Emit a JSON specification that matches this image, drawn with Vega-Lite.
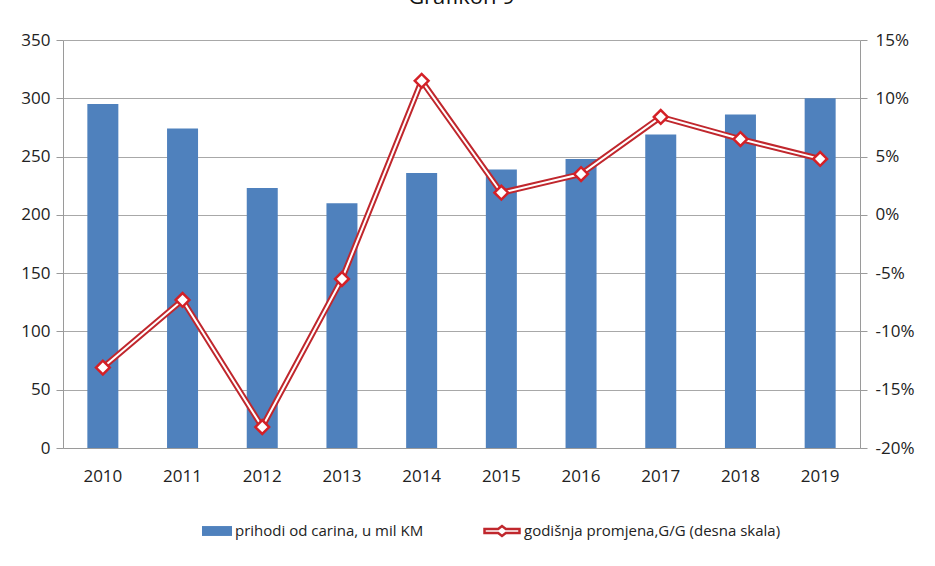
{
  "$schema": "https://vega.github.io/schema/vega-lite/v6.json",
  "width": 797,
  "height": 408,
  "autosize": {"type": "none"},
  "padding": {"left": 63, "top": 40, "right": 75, "bottom": 118},
  "background": "white",
  "title": {"text": "Grafikon 9", "fontSize": 22, "font": "Open Sans", "fontWeight": "normal", "color": "#111", "anchor": "middle", "baseline": "bottom", "offset": 0},
  "config": {
    "view": {"stroke": null},
    "font": "Open Sans",
    "axis": {"labelFont": "Open Sans", "labelFontSize": 17, "labelColor": "#222", "domainColor": "#9a9a9a", "tickColor": "#9a9a9a", "gridColor": "#a8a8a8"},
    "legend": {"labelFont": "Open Sans", "labelFontSize": 15, "labelColor": "#222", "title": null, "labelOffset": 3, "labelLimit": 400}
  },
  "datasets": {
    "bars": [
      {"year": "2010", "value": 295, "series": "prihodi od carina, u mil KM"},
      {"year": "2011", "value": 274, "series": "prihodi od carina, u mil KM"},
      {"year": "2012", "value": 223, "series": "prihodi od carina, u mil KM"},
      {"year": "2013", "value": 210, "series": "prihodi od carina, u mil KM"},
      {"year": "2014", "value": 236, "series": "prihodi od carina, u mil KM"},
      {"year": "2015", "value": 239, "series": "prihodi od carina, u mil KM"},
      {"year": "2016", "value": 248, "series": "prihodi od carina, u mil KM"},
      {"year": "2017", "value": 269, "series": "prihodi od carina, u mil KM"},
      {"year": "2018", "value": 286, "series": "prihodi od carina, u mil KM"},
      {"year": "2019", "value": 300, "series": "prihodi od carina, u mil KM"}
    ],
    "line": [
      {"year": "2010", "pct": -13.1, "series": "godišnja promjena,G/G (desna skala)"},
      {"year": "2011", "pct": -7.3, "series": "godišnja promjena,G/G (desna skala)"},
      {"year": "2012", "pct": -18.2, "series": "godišnja promjena,G/G (desna skala)"},
      {"year": "2013", "pct": -5.5, "series": "godišnja promjena,G/G (desna skala)"},
      {"year": "2014", "pct": 11.5, "series": "godišnja promjena,G/G (desna skala)"},
      {"year": "2015", "pct": 1.9, "series": "godišnja promjena,G/G (desna skala)"},
      {"year": "2016", "pct": 3.5, "series": "godišnja promjena,G/G (desna skala)"},
      {"year": "2017", "pct": 8.4, "series": "godišnja promjena,G/G (desna skala)"},
      {"year": "2018", "pct": 6.5, "series": "godišnja promjena,G/G (desna skala)"},
      {"year": "2019", "pct": 4.8, "series": "godišnja promjena,G/G (desna skala)"}
    ]
  },
  "layer": [
    {
      "data": {"name": "bars"},
      "mark": {"type": "bar", "size": 31},
      "encoding": {
        "x": {"field": "year", "type": "ordinal", "scale": {"paddingInner": 0, "paddingOuter": 0}, "axis": {"title": null, "labelAngle": 0, "ticks": false, "labelPadding": 20}},
        "y": {"field": "value", "type": "quantitative", "scale": {"domain": [0, 350]}, "axis": {"title": null, "values": [0, 50, 100, 150, 200, 250, 300, 350], "grid": true, "tickSize": 7, "labelPadding": 6}},
        "fill": {"field": "series", "type": "nominal",
          "scale": {"domain": ["prihodi od carina, u mil KM"], "range": ["#4F81BD"]},
          "legend": {"orient": "none", "legendX": 139, "legendY": 476, "symbolSize": 900, "symbolType": "M-1,-0.33H1V0.33H-1Z", "symbolStrokeWidth": 0}}
      }
    },
    {
      "data": {"name": "line"},
      "encoding": {
        "x": {"field": "year", "type": "ordinal"},
        "y": {"field": "pct", "type": "quantitative", "scale": {"domain": [-20, 15]}, "axis": {"title": null, "orient": "right", "values": [-20, -15, -10, -5, 0, 5, 10, 15], "labelExpr": "datum.value + '%'", "grid": false, "tickSize": 7, "labelPadding": 8}}
      },
      "layer": [
        {"mark": {"type": "line", "strokeWidth": 6}, "encoding": {"stroke": {"field": "series", "type": "nominal",
          "scale": {"domain": ["godišnja promjena,G/G (desna skala)"], "range": ["#C0272D"]},
          "legend": {"orient": "none", "legendX": 420, "legendY": 472, "symbolSize": 1225, "symbolType": "M-1,-0.11H-0.22L0,-0.28L0.22,-0.11H1V0.11H0.22L0,0.28L-0.22,0.11H-1Z", "symbolFillColor": "white", "symbolStrokeWidth": 2.5}}}},
        {"mark": {"type": "line", "strokeWidth": 2, "color": "white"}, "encoding": {}},
        {"mark": {"type": "point", "shape": "diamond", "filled": true, "fill": "white", "stroke": "#D42027", "strokeWidth": 2.5, "size": 190, "opacity": 1}}
      ]
    }
  ],
  "resolve": {"scale": {"y": "independent"}}
}
